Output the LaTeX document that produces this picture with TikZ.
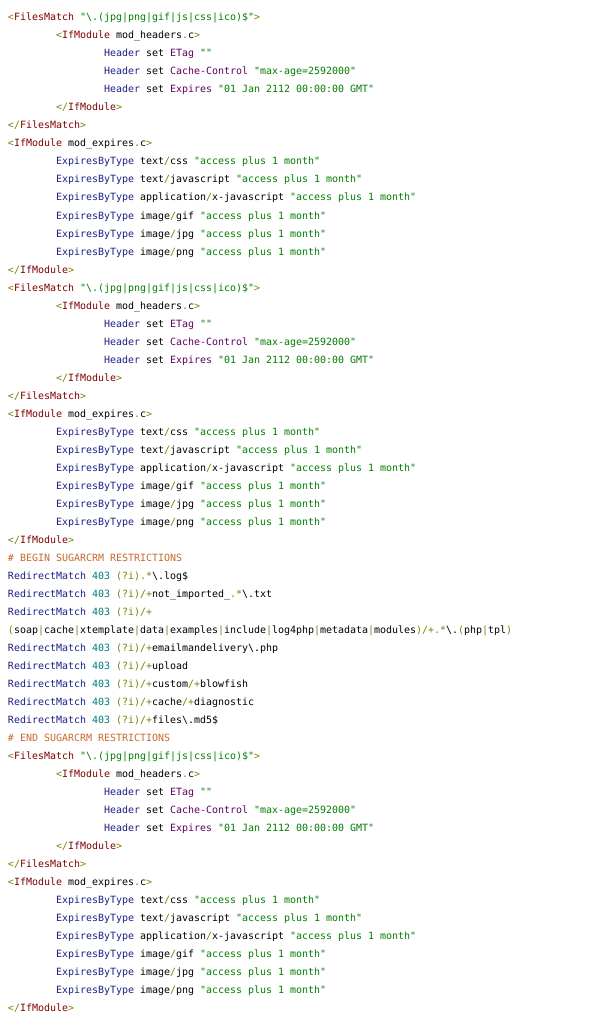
\documentclass[tikz,border=0pt]{standalone}
\usepackage{fontspec}
\setmonofont{DejaVu Sans Mono}
\definecolor{tagc}{HTML}{800000}
\definecolor{olv}{HTML}{7F7F00}
\definecolor{kwc}{HTML}{1C2086}
\definecolor{prp}{HTML}{600060}
\definecolor{strc}{HTML}{007F00}
\definecolor{numc}{HTML}{007F7F}
\definecolor{cmtc}{HTML}{C8692E}
\newcommand\hlT[1]{\textcolor{tagc}{#1}}
\newcommand\hlO[1]{\textcolor{olv}{#1}}
\newcommand\hlK[1]{\textcolor{kwc}{#1}}
\newcommand\hlP[1]{\textcolor{prp}{#1}}
\newcommand\hlS[1]{\textcolor{strc}{#1}}
\newcommand\hlN[1]{\textcolor{numc}{#1}}
\newcommand\hlC[1]{\textcolor{cmtc}{#1}}
\newcommand\bs{\textbackslash}
\tikzset{codeline/.style={anchor=base west,inner sep=0pt,outer sep=0pt,font=\ttfamily\fontsize{9.97}{18}\selectfont,text=black}}
% #1 = first line index, #2 = name prefix
\newcommand\confblock[2]{%
\begin{scope}[yshift={-18*#1pt}]
\node[codeline] (#2a) at (8,21) {\hlO{<}\hlT{FilesMatch} \hlS{"\bs.(jpg|png|gif|js|css|ico)\$"}\hlO{>}};
\node[codeline] (#2b) at (56,39) {\hlO{<}\hlT{IfModule} mod\_headers\hlO{.}c\hlO{>}};
\node[codeline] (#2c) at (104,57) {\hlK{Header} set \hlP{ETag} \hlS{""}};
\node[codeline] (#2d) at (104,75) {\hlK{Header} set \hlP{Cache-Control} \hlS{"max-age=2592000"}};
\node[codeline] (#2e) at (104,93) {\hlK{Header} set \hlP{Expires} \hlS{"01 Jan 2112 00:00:00 GMT"}};
\node[codeline] (#2f) at (56,111) {\hlO{</}\hlT{IfModule}\hlO{>}};
\node[codeline] (#2g) at (8,129) {\hlO{</}\hlT{FilesMatch}\hlO{>}};
\node[codeline] (#2h) at (8,147) {\hlO{<}\hlT{IfModule} mod\_expires\hlO{.}c\hlO{>}};
\node[codeline] (#2i) at (56,165) {\hlK{ExpiresByType} text\hlO{/}css \hlS{"access plus 1 month"}};
\node[codeline] (#2j) at (56,183) {\hlK{ExpiresByType} text\hlO{/}javascript \hlS{"access plus 1 month"}};
\node[codeline] (#2k) at (56,201) {\hlK{ExpiresByType} application\hlO{/}x-javascript \hlS{"access plus 1 month"}};
\node[codeline] (#2l) at (56,219) {\hlK{ExpiresByType} image\hlO{/}gif \hlS{"access plus 1 month"}};
\node[codeline] (#2m) at (56,237) {\hlK{ExpiresByType} image\hlO{/}jpg \hlS{"access plus 1 month"}};
\node[codeline] (#2n) at (56,255) {\hlK{ExpiresByType} image\hlO{/}png \hlS{"access plus 1 month"}};
\node[codeline] (#2o) at (8,273) {\hlO{</}\hlT{IfModule}\hlO{>}};
\end{scope}}
\begin{document}
\begin{tikzpicture}[x=1pt,y=-1pt]
\fill[white] (0,0) rectangle (600,1024);
\useasboundingbox (0,0) rectangle (600,1024);
\confblock{0}{A}
\confblock{15}{B}
\node[codeline] (c1) at (8,561) {\hlC{\# BEGIN SUGARCRM RESTRICTIONS}};
\node[codeline] (r1) at (8,579) {\hlK{RedirectMatch} \hlN{403} \hlO{(?i).*}\bs.log\$};
\node[codeline] (r2) at (8,597) {\hlK{RedirectMatch} \hlN{403} \hlO{(?i)/+}not\_imported\_\hlO{.*}\bs.txt};
\node[codeline] (r3) at (8,615) {\hlK{RedirectMatch} \hlN{403} \hlO{(?i)/+}};
\node[codeline] (r3b) at (8,633) {\hlO{(}soap\hlO{|}cache\hlO{|}xtemplate\hlO{|}data\hlO{|}examples\hlO{|}include\hlO{|}log4php\hlO{|}metadata\hlO{|}modules\hlO{)/+.*}\bs.\hlO{(}php\hlO{|}tpl\hlO{)}};
\node[codeline] (r4) at (8,651) {\hlK{RedirectMatch} \hlN{403} \hlO{(?i)/+}emailmandelivery\bs.php};
\node[codeline] (r5) at (8,669) {\hlK{RedirectMatch} \hlN{403} \hlO{(?i)/+}upload};
\node[codeline] (r6) at (8,687) {\hlK{RedirectMatch} \hlN{403} \hlO{(?i)/+}custom\hlO{/+}blowfish};
\node[codeline] (r7) at (8,705) {\hlK{RedirectMatch} \hlN{403} \hlO{(?i)/+}cache\hlO{/+}diagnostic};
\node[codeline] (r8) at (8,723) {\hlK{RedirectMatch} \hlN{403} \hlO{(?i)/+}files\bs.md5\$};
\node[codeline] (c2) at (8,741) {\hlC{\# END SUGARCRM RESTRICTIONS}};
\confblock{41}{C}
\end{tikzpicture}
\end{document}
